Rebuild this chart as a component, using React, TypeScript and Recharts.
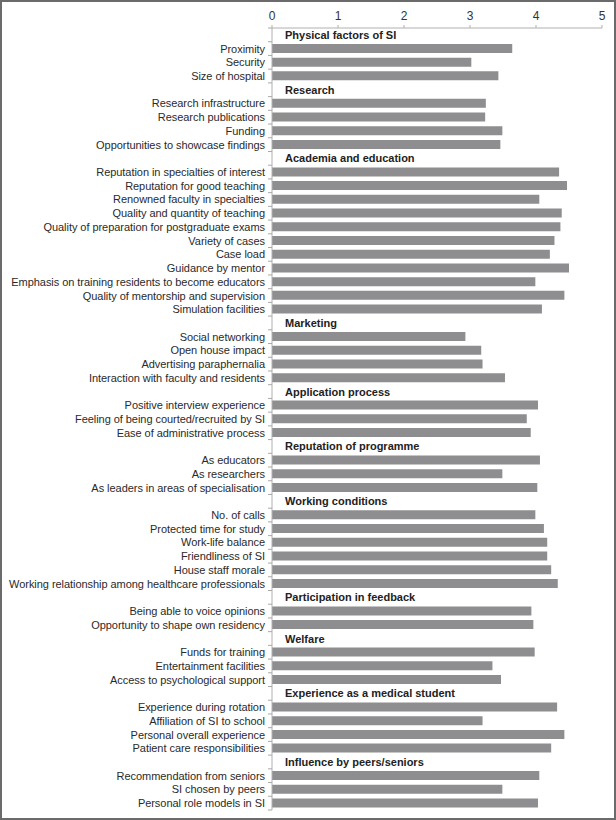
import React from "react";
import { BarChart, Bar, XAxis, YAxis } from "recharts";

const groupTitles: string[] = [
  "Physical factors of SI",
  "Research",
  "Academia and education",
  "Marketing",
  "Application process",
  "Reputation of programme",
  "Working conditions",
  "Participation in feedback",
  "Welfare",
  "Experience as a medical student",
  "Influence by peers/seniors",
];

const groupItems: string[][] = [
  ["Proximity", "Security", "Size of hospital"],
  ["Research infrastructure", "Research publications", "Funding", "Opportunities to showcase findings"],
  [
    "Reputation in specialties of interest",
    "Reputation for good teaching",
    "Renowned faculty in specialties",
    "Quality and quantity of teaching",
    "Quality of preparation for postgraduate exams",
    "Variety of cases",
    "Case load",
    "Guidance by mentor",
    "Emphasis on training residents to become educators",
    "Quality of mentorship and supervision",
    "Simulation facilities",
  ],
  ["Social networking", "Open house impact", "Advertising paraphernalia", "Interaction with faculty and residents"],
  ["Positive interview experience", "Feeling of being courted/recruited by SI", "Ease of administrative process"],
  ["As educators", "As researchers", "As leaders in areas of specialisation"],
  [
    "No. of calls",
    "Protected time for study",
    "Work-life balance",
    "Friendliness of SI",
    "House staff morale",
    "Working relationship among healthcare professionals",
  ],
  ["Being able to voice opinions", "Opportunity to shape own residency"],
  ["Funds for training", "Entertainment facilities", "Access to psychological support"],
  ["Experience during rotation", "Affiliation of SI to school", "Personal overall experience", "Patient care responsibilities"],
  ["Recommendation from seniors", "SI chosen by peers", "Personal role models in SI"],
];

const groupValues: number[][] = [
  [3.64, 3.02, 3.43],
  [3.24, 3.23, 3.49, 3.46],
  [4.35, 4.47, 4.05, 4.39, 4.37, 4.28, 4.21, 4.5, 3.99, 4.43, 4.09],
  [2.93, 3.17, 3.19, 3.53],
  [4.03, 3.86, 3.92],
  [4.06, 3.49, 4.02],
  [3.99, 4.12, 4.17, 4.17, 4.23, 4.33],
  [3.93, 3.96],
  [3.98, 3.34, 3.47],
  [4.32, 3.19, 4.43, 4.23],
  [4.05, 3.49, 4.03],
];

const xTicks: number[] = [0, 1, 2, 3, 4, 5];

type Row = { label: string; value: number | null; header: boolean };

const rows: Row[] = [];
groupTitles.forEach((title, g) => {
  rows.push({ label: title, value: null, header: true });
  groupItems[g].forEach((item, i) => {
    rows.push({ label: item, value: groupValues[g][i], header: false });
  });
});

const W = 616;
const H = 820;
const TOP = 28;
const BOTTOM = 10;
const BAND = (H - TOP - BOTTOM) / rows.length;
const FONT = "'Liberation Sans', Arial, sans-serif";

const RowTick = (props: any) => {
  const { x, y, index } = props;
  const row = rows[index];
  if (!row) return null;
  const axisX = x + 7;
  const top = y - BAND / 2;
  const bottom = y + BAND / 2;
  const isLast = index === rows.length - 1;
  return (
    <g>
      <line x1={axisX - 4} x2={axisX} y1={top} y2={top} stroke="#a8a8a8" strokeWidth={1} />
      {isLast && <line x1={axisX - 4} x2={axisX} y1={bottom} y2={bottom} stroke="#a8a8a8" strokeWidth={1} />}
      {row.header ? (
        <text x={axisX + 13} y={y} dy={4} textAnchor="start" fontFamily={FONT} fontSize={11} fontWeight="bold" fill="#222">
          {row.label}
        </text>
      ) : (
        <text x={x} y={y} dy={4} textAnchor="end" fontFamily={FONT} fontSize={11} fill="#2a2a2a" letterSpacing={-0.05}>
          {row.label}
        </text>
      )}
    </g>
  );
};

export default function App() {
  return (
    <div
      style={{
        position: "absolute",
        left: 0,
        top: 0,
        width: W,
        height: H,
        boxSizing: "border-box",
        border: "2px solid #6b6b6b",
        background: "#fff",
      }}
    >
      <div style={{ position: "absolute", left: -2, top: -2 }}>
        <BarChart
          width={W}
          height={H}
          data={rows}
          layout="vertical"
          margin={{ top: 0, right: 14, bottom: BOTTOM, left: 0 }}
          barCategoryGap="16%"
        >
          <XAxis
            type="number"
            orientation="top"
            domain={[0, 5]}
            ticks={xTicks}
            interval={0}
            height={TOP}
            tickSize={3}
            tickMargin={5}
            axisLine={{ stroke: "#b0b0b0" }}
            tickLine={{ stroke: "#b0b0b0" }}
            tick={{ fontFamily: FONT, fontSize: 12, fill: "#333" }}
          />
          <YAxis
            type="category"
            dataKey="label"
            width={272}
            interval={0}
            tickSize={5}
            tickMargin={2}
            tickLine={false}
            axisLine={{ stroke: "#b0b0b0" }}
            tick={<RowTick />}
          />
          <Bar dataKey="value" fill="#8e8e90" isAnimationActive={false} />
        </BarChart>
      </div>
    </div>
  );
}
